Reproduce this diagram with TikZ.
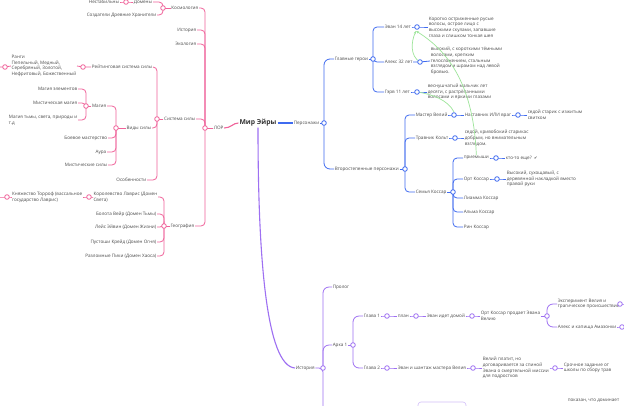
\documentclass[tikz,border=0pt]{standalone}
\usepackage{fontspec}
\setmainfont{Open Sans}
\newfontfamily\symfont{DejaVu Sans}
\usetikzlibrary{arrows.meta}
\definecolor{lorpink}{HTML}{F0639A}
\definecolor{persblue}{HTML}{3F6BF0}
\definecolor{istpurple}{HTML}{9E70F2}
\definecolor{relgreen}{HTML}{9EE59A}
\definecolor{txtgray}{HTML}{4A4A4A}
\tikzset{
	tx/.style={font=\fontsize{4.6}{5.7}\selectfont,text=txtgray,inner sep=0.6pt,align=left},
	knob/.style={circle,draw,fill=white,minimum size=4.6pt,inner sep=0pt,line width=0.8pt},
	pk/.style={draw=lorpink,line width=0.8pt,rounded corners=4pt},
	bl/.style={draw=persblue,line width=0.8pt,rounded corners=4pt},
	vi/.style={draw=istpurple,line width=0.8pt,rounded corners=4pt},
	rel/.style={draw=relgreen,line width=0.7pt}
}
\begin{document}
\begin{tikzpicture}[x=1pt,y=-1pt]
	\fill[white] (0,0) rectangle (624,405);
	\useasboundingbox (0,0) rectangle (624,405);
	\node[font=\fontsize{6.8}{8}\selectfont\bfseries,text=black!80,inner sep=1pt] (mir) at (258,123) {Мир Эйры};
	% ЛОР
	\node[tx,anchor=west] (lor) at (213,128) {ЛОР};
	\coordinate (cLor) at (205,128);
	\node[tx,anchor=east] (kosm) at (199,8) {Космология};
	\coordinate (cKosm) at (163,8);
	\node[tx,anchor=east] (domeny) at (153,2) {Домены};
	\coordinate (cDom) at (126,2);
	\node[tx,anchor=east] (nestab) at (120,2) {Нестабильны};
	\node[tx,anchor=east] (sozd) at (157,15) {Создатели Древние Хранители};
	\node[tx,anchor=east] (ist) at (197,30) {История};
	\node[tx,anchor=east] (eko) at (197,44) {Экология};
	\node[tx,anchor=east] (sila) at (196,119) {Система силы};
	\coordinate (cSila) at (157,119);
	\node[tx,anchor=east] (reit) at (153,67) {Рейтинговая система силы};
	\coordinate (cReit) at (83,67);
	\node[tx,anchor=east] (rangi) at (77,66) {Ранги\\Пепельный, Медный,\\Серебряный, Золотой,\\Нефритовый, Божественный};
	\coordinate (cRangi) at (5,67);
	\coordinate (offRangi) at (-4,67);
	\node[tx,anchor=east] (vidy) at (152,128) {Виды силы};
	\coordinate (cVidy) at (116,128);
	\node[tx,anchor=east] (magia) at (107,106) {Магия};
	\coordinate (cMag) at (86,106);
	\node[tx,anchor=east] (mElem) at (78,89) {Магия элементов};
	\node[tx,anchor=east] (mMist) at (78,103) {Мистическая магия};
	\node[tx,anchor=east] (mTma) at (78,120) {Магия тьмы, света, природы и\\т.д};
	\node[tx,anchor=east] (boev) at (108,138) {Боевое мастерство};
	\node[tx,anchor=east] (aura) at (107,152) {Аура};
	\node[tx,anchor=east] (mistS) at (108,165) {Мистические силы};
	\node[tx,anchor=east] (osob) at (147,180) {Особенности};
	\node[tx,anchor=east] (geo) at (195,226) {География};
	\coordinate (cGeo) at (164,226);
	\node[tx,anchor=east] (lavris) at (158,197) {Королевство Лаврис (Домен\\Света)};
	\coordinate (cLav) at (89,197);
	\node[tx,anchor=east] (torrof) at (83,197) {Княжество Торроф (вассальное\\государство Лаврис)};
	\coordinate (cTor) at (7,197);
	\coordinate (offTor) at (-4,197);
	\node[tx,anchor=east] (veir) at (157,214) {Болота Вейр (Домен Тьмы)};
	\node[tx,anchor=east] (leis) at (157,227) {Лейс Эйвин (Домен Жизни)};
	\node[tx,anchor=east] (pust) at (157,242) {Пустоши Крейд (Домен Огня)};
	\node[tx,anchor=east] (razl) at (157,256) {Разломные Пики (Домен Хаоса)};
	% Персонажи
	\node[tx,anchor=west] (pers) at (293,123) {Персонажи};
	\coordinate (cPers) at (324,123);
	\node[tx,anchor=west] (glav) at (334,59) {Главные герои};
	\coordinate (cGlav) at (373,59);
	\node[tx,anchor=west] (evan) at (384,27) {Эван 14 лет};
	\coordinate (cEvan) at (417,27);
	\node[tx,anchor=west] (dEvan) at (428,27) {Коротко остриженные русые\\волосы, острое лицо с\\высокими скулами, запавшие\\глаза и слишком тонкая шея};
	\node[tx,anchor=west] (aleks) at (384,62) {Алекс 32 лет};
	\coordinate (cAleks) at (420,62);
	\node[tx,anchor=west] (dAleks) at (430,61) {высокий, с короткими тёмными\\волосами, крепким\\телосложением, стальным\\взглядом и шрамом над левой\\бровью.};
	\node[tx,anchor=west] (gerv) at (384,92) {Гэрв 11 лет};
	\coordinate (cGerv) at (417,92);
	\node[tx,anchor=west] (dGerv) at (427,92) {веснушчатый мальчик лет\\десяти, с растрёпанными\\волосами и яркими глазами};
	\node[tx,anchor=west] (vtor) at (334,169) {Второстепенные персонажи};
	\coordinate (cVtor) at (405,169);
	\node[tx,anchor=west] (veliy) at (415,115) {Мастер Велий};
	\coordinate (cVel) at (454,115);
	\node[tx,anchor=west] (nast) at (464,115) {Наставник ИЛИ враг};
	\coordinate (cNast) at (518,115);
	\node[tx,anchor=west] (dNast) at (527,115) {седой старик с изжитым\\свитком};
	\node[tx,anchor=west] (kolt) at (415,138) {Травник Кольт};
	\coordinate (cKolt) at (455,138);
	\node[tx,anchor=west] (dKolt) at (464,138) {седой, кривобокий старикас\\добрым, но внимательным\\взглядом.};
	\node[tx,anchor=west] (koss) at (415,192) {Семья Коссар};
	\coordinate (cKoss) at (453,192);
	\node[tx,anchor=west] (priem) at (463,158) {приемыши};
	\coordinate (cPriem) at (496,158);
	\node[tx,anchor=west] (kto) at (505,158) {кто-то еще?\ \ {\symfont\fontsize{4}{5}\selectfont ✔}};
	\node[tx,anchor=west] (ort) at (463,179) {Орт Коссар};
	\coordinate (cOrt) at (497,179);
	\node[tx,anchor=west] (dOrt) at (506,179) {Высокий, сухощавый, с\\деревянной накладкой вместо\\правой руки};
	\node[tx,anchor=west] (liamma) at (463,198) {Лиамма Коссар};
	\node[tx,anchor=west] (alma) at (463,212) {Альма Коссар};
	\node[tx,anchor=west] (rin) at (463,227) {Рин Коссар};
	% История
	\node[tx,anchor=west] (ist2) at (295,368) {История};
	\coordinate (cIst) at (323,368);
	\coordinate (offIst) at (323,412);
	\node[tx,anchor=west] (prolog) at (332,287) {Пролог};
	\node[tx,anchor=west] (arka) at (332,345) {Арка 1};
	\coordinate (cArka) at (353,345);
	\node[tx,anchor=west] (gl1) at (363,316) {Глава 1};
	\coordinate (cGl1) at (387,316);
	\node[tx,anchor=west] (plan) at (397,316) {план};
	\coordinate (cPlan) at (416,316);
	\node[tx,anchor=west] (domoy) at (426,316) {Эван идет домой};
	\coordinate (cDomoy) at (472,316);
	\node[tx,anchor=west] (prod) at (480,316) {Орт Коссар продает Эвана\\Велию};
	\coordinate (cProd) at (547,316);
	\node[tx,anchor=west] (exper) at (557,304) {Эксперимент Велия и\\трагическое происшествие};
	\coordinate (cExp) at (620,304);
	\coordinate (offExp) at (630,304);
	\node[tx,anchor=west] (kapish) at (557,327) {Алекс и капища Амазонки};
	\coordinate (cKap) at (622,327);
	\coordinate (offKap) at (630,327);
	\node[tx,anchor=west] (gl2) at (363,368) {Глава 2};
	\coordinate (cGl2) at (387,368);
	\node[tx,anchor=west] (shant) at (397,368) {Эван и шантаж мастера Велия};
	\coordinate (cShant) at (473,368);
	\node[tx,anchor=west] (platit) at (482,368) {Велий платит, но\\договаривается за спиной\\Эвана о смертельной миссии\\для подростков};
	\coordinate (cPlat) at (555,368);
	\node[tx,anchor=west] (sroch) at (563,368) {Срочное задание от\\школы по сбору трав};
	\node[draw=istpurple!45,rounded corners=3pt,line width=0.6pt,minimum width=48pt,minimum height=12pt] (boxB) at (442,408) {};
	\node[tx,anchor=west] (pokaz) at (567,401) {показан, что доминает};
	% ветки от корня
	\draw[pk,line width=1.1pt] (mir.west) .. controls (233,123) and (231,128) .. (lor.east);
	\draw[bl,line width=1.1pt] (mir.east) -- (pers.west);
	\draw[vi,line width=1.1pt] (mir.south) .. controls (258,255) and (266,366) .. (ist2.west);
	% розовые
	\draw[pk] (lor.west) -- (cLor);
	\foreach \k in {kosm,ist,eko,sila,geo} \draw[pk] (\k.east) -| (cLor);
	\draw[pk] (kosm.west) -- (cKosm);
	\foreach \k in {domeny,sozd} \draw[pk] (\k.east) -| (cKosm);
	\draw[pk] (domeny.west) -- (cDom) -- (nestab.east);
	\draw[pk] (sila.west) -- (cSila);
	\foreach \k in {reit,vidy,osob} \draw[pk] (\k.east) -| (cSila);
	\draw[pk] (reit.west) -- (cReit) -- (rangi.east);
	\draw[pk] (rangi.west) -- (cRangi) -- (offRangi);
	\draw[pk] (vidy.west) -- (cVidy);
	\foreach \k in {magia,boev,aura,mistS} \draw[pk] (\k.east) -| (cVidy);
	\draw[pk] (magia.west) -- (cMag);
	\foreach \k in {mElem,mMist,mTma} \draw[pk] (\k.east) -| (cMag);
	\draw[pk] (geo.west) -- (cGeo);
	\foreach \k in {lavris,veir,leis,pust,razl} \draw[pk] (\k.east) -| (cGeo);
	\draw[pk] (lavris.west) -- (cLav) -- (torrof.east);
	\draw[pk] (torrof.west) -- (cTor) -- (offTor);
	% синие
	\draw[bl] (pers.east) -- (cPers);
	\foreach \k in {glav,vtor} \draw[bl,rounded corners=6pt] (cPers) |- (\k.west);
	\draw[bl] (glav.east) -- (cGlav);
	\foreach \k in {evan,aleks,gerv} \draw[bl] (cGlav) |- (\k.west);
	\draw[bl] (evan.east) -- (cEvan) -- (dEvan.west);
	\draw[bl] (aleks.east) -- (cAleks) -- (dAleks.west);
	\draw[bl] (gerv.east) -- (cGerv) -- (dGerv.west);
	\draw[bl] (vtor.east) -- (cVtor);
	\foreach \k in {veliy,kolt,koss} \draw[bl] (cVtor) |- (\k.west);
	\draw[bl] (veliy.east) -- (cVel) -- (nast.west);
	\draw[bl] (nast.east) -- (cNast) -- (dNast.west);
	\draw[bl] (kolt.east) -- (cKolt) -- (dKolt.west);
	\draw[bl] (koss.east) -- (cKoss);
	\foreach \k in {priem,ort,liamma,alma,rin} \draw[bl] (cKoss) |- (\k.west);
	\draw[bl] (priem.east) -- (cPriem) -- (kto.west);
	\draw[bl] (ort.east) -- (cOrt) -- (dOrt.west);
	% фиолетовые
	\draw[vi] (ist2.east) -- (cIst) -- (offIst);
	\foreach \k in {prolog,arka} \draw[vi,rounded corners=6pt] (cIst) |- (\k.west);
	\draw[vi] (arka.east) -- (cArka);
	\foreach \k in {gl1,gl2} \draw[vi,rounded corners=6pt] (cArka) |- (\k.west);
	\draw[vi] (gl1.east) -- (cGl1) -- (plan.west);
	\draw[vi] (plan.east) -- (cPlan) -- (domoy.west);
	\draw[vi] (domoy.east) -- (cDomoy) -- (prod.west);
	\draw[vi] (prod.east) -- (cProd);
	\foreach \k in {exper,kapish} \draw[vi,rounded corners=6pt] (cProd) |- (\k.west);
	\draw[vi] (exper.east) -- (cExp) -- (offExp);
	\draw[vi] (kapish.east) -- (cKap) -- (offKap);
	\draw[vi] (gl2.east) -- (cGl2) -- (shant.west);
	\draw[vi] (shant.east) -- (cShant) -- (platit.west);
	\draw[vi] (platit.east) -- (cPlat) -- (sroch.west);
	% связи
	\coordinate (evanIn) at (416,31);
	\coordinate (velIn) at (454,112);
	\draw[rel,-{Stealth[length=3pt,width=2.4pt]}] (cAleks) .. controls (410,56) and (411,42) .. (evanIn);
	\draw[rel,-{Stealth[length=3pt,width=2.4pt]}] (priem.north) .. controls (474,95) and (455,55) .. (evanIn);
	\draw[rel] (cGerv) .. controls (432,94) and (448,100) .. (velIn);
	% кружки
	\foreach \c in {cLor,cKosm,cDom,cSila,cReit,cRangi,cVidy,cMag,cGeo,cLav,cTor} \node[knob,draw=lorpink] at (\c) {};
	\foreach \c in {cPers,cGlav,cEvan,cAleks,cGerv,cVtor,cVel,cNast,cKolt,cKoss,cPriem,cOrt} \node[knob,draw=persblue] at (\c) {};
	\foreach \c in {cIst,cArka,cGl1,cPlan,cDomoy,cProd,cExp,cKap,cGl2,cShant,cPlat} \node[knob,draw=istpurple] at (\c) {};
\end{tikzpicture}
\end{document}
